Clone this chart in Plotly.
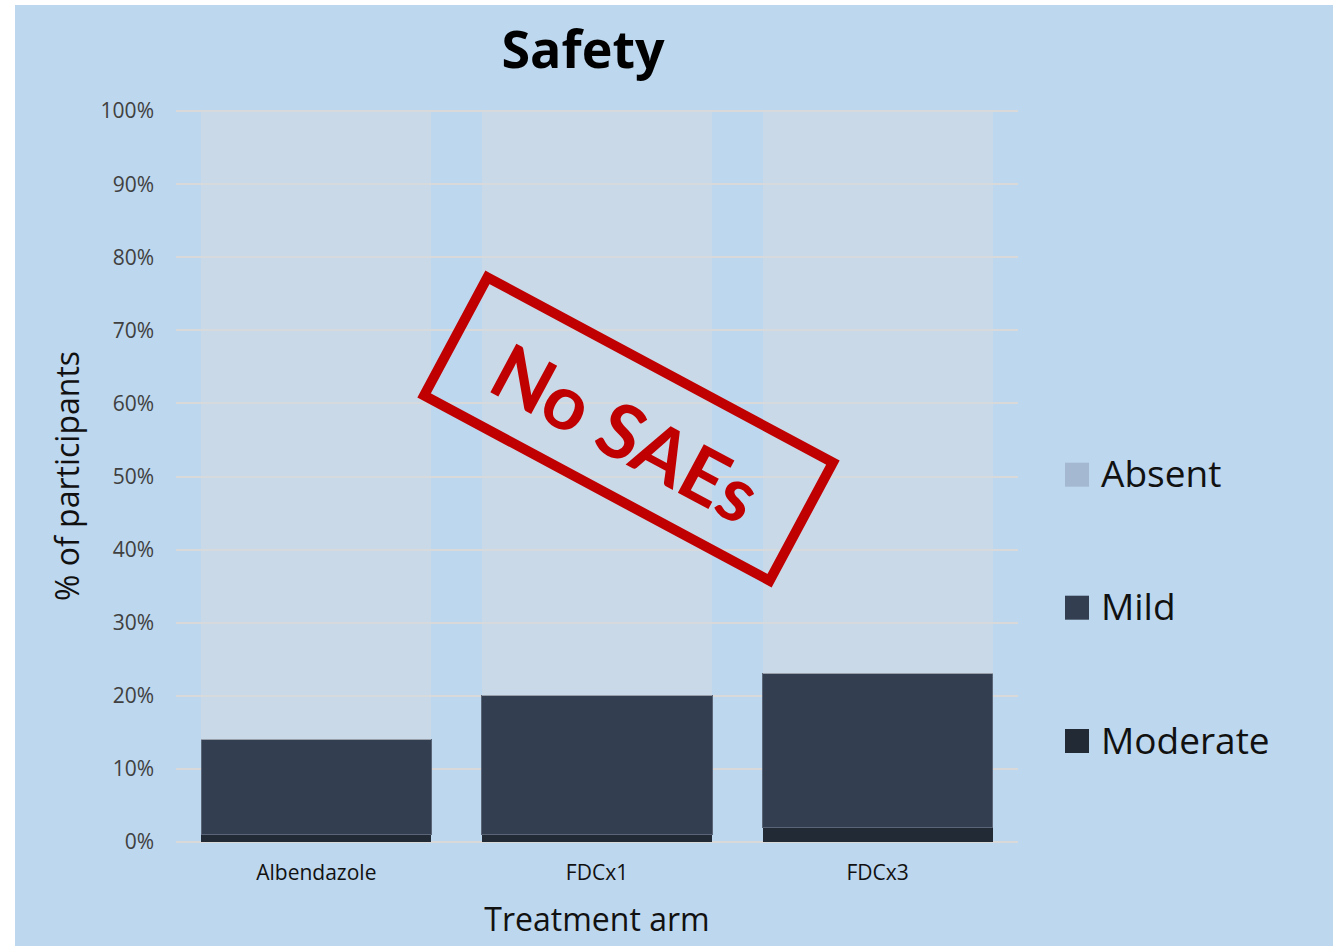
import math
import plotly.graph_objects as go

# Share of participants per adverse-event severity, by treatment arm (%)
arms = ["Albendazole", "FDCx1", "FDCx3"]
moderate = [1, 1, 2]
mild = [13, 19, 21]
absent = [86, 80, 77]

severity_names = ["Absent", "Mild", "Moderate"]
swatch_colors = ["#A4B9D1", "#333F50", "#222A35"]

W, H = 1340, 946
L, R, T, B = 176, 1018, 110, 842          # plot-area edges in pixels
PW, PH = R - L, B - T
Y_MAX = 100.15                             # a hair above 100 so the top gridline shows


def px_x(x):
    return (x - L) / PW


def px_y(y):
    return (B - y) / PH


BG = "#BDD7EE"
FONT = "Open Sans"

fig = go.Figure()
fig.add_trace(go.Bar(
    x=arms, y=moderate, name="Moderate",
    marker=dict(color="#222A35", line=dict(width=0)),
))
fig.add_trace(go.Bar(
    x=arms, y=mild, name="Mild",
    marker=dict(color="#333F50", line=dict(width=1, color="#5A6577")),
))
fig.add_trace(go.Bar(
    x=arms, y=absent, name="Absent",
    marker=dict(color="rgba(213,219,226,0.5)", line=dict(width=0)),
))

shapes = [
    # light-blue slide panel behind the chart
    dict(type="rect", xref="paper", yref="paper", layer="below",
         x0=px_x(15), x1=px_x(1333), y0=px_y(W), y1=px_y(5),
         fillcolor=BG, line=dict(width=0)),
]

# rotated "stamp" frame
cx, cy, sw, sh, ang = 628.5, 429.0, 392, 134, math.radians(28.2)
ca, sa = math.cos(ang), math.sin(ang)
corners = []
for dx, dy in [(-sw / 2, -sh / 2), (sw / 2, -sh / 2), (sw / 2, sh / 2), (-sw / 2, sh / 2)]:
    corners.append((cx + dx * ca - dy * sa, cy + dx * sa + dy * ca))
path = "M " + " L ".join(f"{px_x(x):.5f},{px_y(y):.5f}" for x, y in corners) + " Z"
shapes.append(dict(type="path", xref="paper", yref="paper", path=path,
                   line=dict(color="#C00000", width=10), layer="above"))

annotations = [
    dict(text="No SAEs", x=px_x(cx - 2), y=px_y(cy + 2), xref="paper", yref="paper",
         showarrow=False, textangle=28.2, xanchor="center", yanchor="middle",
         font=dict(family="Lato", size=76, color="#C00000", weight="bold")),
]

# legend: square swatch + label per severity
legend_y = [474.7, 607.7, 741.0]
for name, col, yc in zip(severity_names, swatch_colors, legend_y):
    shapes.append(dict(type="rect", xref="paper", yref="paper",
                       x0=px_x(1065), x1=px_x(1089),
                       y0=px_y(yc + 12), y1=px_y(yc - 12),
                       fillcolor=col, line=dict(width=0)))
    annotations.append(dict(text=name, x=px_x(1099), y=px_y(yc - 2), xref="paper", yref="paper",
                            showarrow=False, xanchor="left", yanchor="middle",
                            font=dict(family=FONT, size=37, color="#111111")))

fig.update_layout(
    width=W, height=H,
    margin=dict(l=L, r=W - R, t=T, b=H - B, pad=0),
    paper_bgcolor="white",
    plot_bgcolor="rgba(0,0,0,0)",
    barmode="stack",
    bargap=0.18,
    showlegend=False,
    title=dict(text="<b>Safety</b>", x=px_x(583), xref="paper", xanchor="center",
               y=1 - 50 / H, yref="container", yanchor="middle",
               font=dict(family=FONT, size=52, color="black")),
    shapes=shapes,
    annotations=annotations,
    xaxis=dict(
        showgrid=False, showline=False, zeroline=False,
        tickfont=dict(family=FONT, size=21, color="#111111"),
        ticklabelstandoff=16,
        title=dict(text="Treatment arm", standoff=23,
                   font=dict(family=FONT, size=32, color="#111111")),
    ),
    yaxis=dict(
        range=[0, Y_MAX], dtick=10, ticksuffix="%",
        showgrid=True, gridcolor="#D9D9D9", gridwidth=2,
        zeroline=True, zerolinecolor="#D9D9D9", zerolinewidth=2,
        showline=False,
        tickfont=dict(family=FONT, size=21, color="#404040"),
        ticklabelstandoff=21,
        title=dict(text="% of participants", standoff=11,
                   font=dict(family=FONT, size=32, color="#111111")),
    ),
)

fig.write_html("out.html")
